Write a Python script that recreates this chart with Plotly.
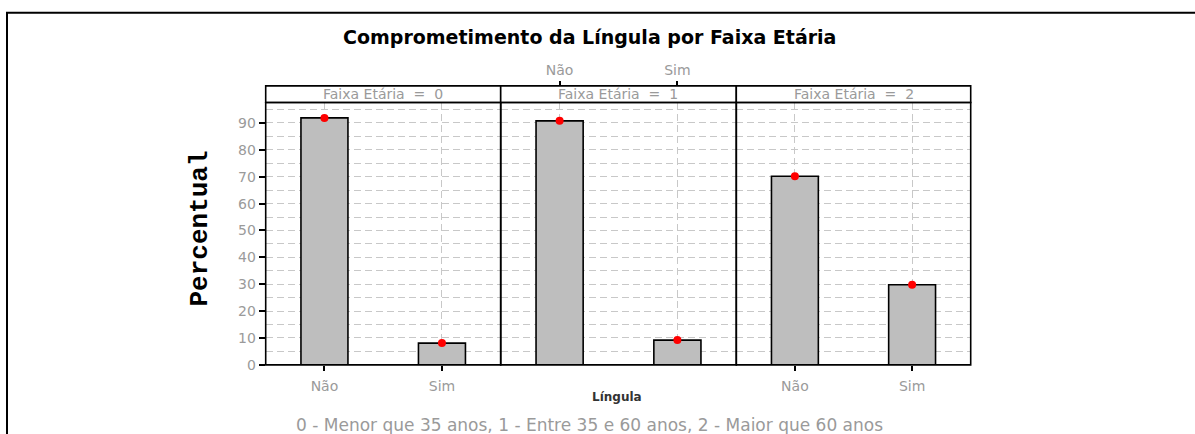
import plotly.graph_objects as go

# dados
categorias = ["Não", "Sim"]
faixas = ["0", "1", "2"]
pct_nao = [91.9, 90.8, 70.2]
pct_sim = [8.1, 9.2, 29.8]
yticks = [0, 10, 20, 30, 40, 50, 60, 70, 80, 90]
titulo = "Comprometimento da Língula por Faixa Etária"
rodape = "0 - Menor que 35 anos, 1 - Entre 35 e 60 anos, 2 - Maior que 60 anos"

W, H = 1195, 434
px = lambda v: v / W
py = lambda v: 1 - v / H

# paineis (pixels)
xs = [(265.7, 500.7), (500.7, 736.3), (736.3, 970.7)]
plot_top, plot_bot = 102.3, 364.0
strip_top = 85.7
ymax = (plot_bot - plot_top) / 2.681

GRAY = "#9a9a9a"
GRID = "#c8c8c8"
DASH = "7px,4px"

fig = go.Figure()

for i, f in enumerate(faixas):
    sx = "" if i == 0 else str(i + 1)
    vals = [pct_nao[i], pct_sim[i]]
    fig.add_trace(go.Bar(
        x=categorias, y=vals, width=0.4,
        marker=dict(color="#bebebe", line=dict(color="black", width=1.6)),
        xaxis="x" + sx, yaxis="y" + sx, showlegend=False,
    ))
    fig.add_trace(go.Scatter(
        x=categorias, y=vals, mode="markers",
        marker=dict(color="red", size=8),
        xaxis="x" + sx, yaxis="y" + sx, showlegend=False,
    ))

# eixo superior do painel do meio (estilo lattice)
fig.add_trace(go.Scatter(
    x=categorias, y=[None, None], mode="markers",
    xaxis="x4", yaxis="y2", showlegend=False, hoverinfo="skip",
))

xcommon = dict(
    type="category", categoryarray=categorias, range=[-0.5, 1.5],
    showline=False,
    showgrid=True, gridcolor=GRID, griddash=DASH, gridwidth=1,
    zeroline=False, fixedrange=True,
    tickfont=dict(family="DejaVu Sans", size=14, color=GRAY),
)
ycommon = dict(
    range=[0, ymax], tickvals=yticks,
    showline=False,
    showgrid=True, gridcolor=GRID, griddash=DASH, gridwidth=1,
    minor=dict(dtick=5, tick0=0, showgrid=True, gridcolor=GRID,
               griddash=DASH, gridwidth=1, ticks=""),
    zeroline=False, fixedrange=True,
    tickfont=dict(family="DejaVu Sans", size=14, color=GRAY),
)

lay = {}
for i in range(3):
    sx = "" if i == 0 else str(i + 1)
    xa = dict(xcommon, domain=[px(xs[i][0]), px(xs[i][1])], anchor="y" + sx)
    if i == 1:
        xa.update(ticks="", showticklabels=False)
    else:
        xa.update(ticks="outside", ticklen=5, tickcolor="black", tickwidth=1.5,
                  ticklabelstandoff=3)
    ya = dict(ycommon, domain=[py(plot_bot), py(plot_top)], anchor="x" + sx)
    if i == 0:
        ya.update(ticks="outside", ticklen=6, tickcolor="black", tickwidth=1.5)
    else:
        ya.update(ticks="", showticklabels=False)
        ya["matches"] = "y"
    lay["xaxis" + sx] = xa
    lay["yaxis" + sx] = ya

lay["xaxis4"] = dict(
    type="category", categoryarray=categorias, range=[-0.5, 1.5],
    overlaying="x2", anchor="free", position=py(strip_top), side="top",
    showline=False, showgrid=False, zeroline=False, fixedrange=True,
    ticks="outside", ticklen=5, tickcolor="black", tickwidth=1.5,
    tickfont=dict(family="DejaVu Sans", size=14, color=GRAY),
)

fig.update_layout(**lay)

shapes = []
annotations = []
for i, f in enumerate(faixas):
    # faixa (strip)
    shapes.append(dict(
        type="rect", xref="paper", yref="paper",
        x0=px(xs[i][0]), x1=px(xs[i][1]), y0=py(plot_top), y1=py(strip_top),
        line=dict(color="black", width=1.6), fillcolor="white",
    ))
    # borda do painel
    shapes.append(dict(
        type="rect", xref="paper", yref="paper", layer="above",
        x0=px(xs[i][0]), x1=px(xs[i][1]), y0=py(plot_bot), y1=py(plot_top),
        line=dict(color="black", width=1.6),
    ))
    annotations.append(dict(
        text="Faixa Etária  =  " + f, xref="paper", yref="paper",
        x=px((xs[i][0] + xs[i][1]) / 2), y=py((plot_top + strip_top) / 2),
        showarrow=False, xanchor="center", yanchor="middle",
        font=dict(family="DejaVu Sans", size=14, color=GRAY),
    ))

# moldura externa
shapes.append(dict(
    type="rect", xref="paper", yref="paper",
    x0=px(7), x1=1.02, y0=-0.05, y1=py(12.7),
    line=dict(color="black", width=2),
))

annotations += [
    dict(text="<b>" + titulo + "</b>", xref="paper", yref="paper",
         x=px(589), y=py(37), showarrow=False, xanchor="center", yanchor="middle",
         font=dict(family="DejaVu Sans", size=19, color="black")),
    dict(text="<b>Percentual</b>", xref="paper", yref="paper",
         x=px(200), y=py(228), showarrow=False, textangle=-90,
         xanchor="center", yanchor="middle",
         font=dict(family="Liberation Mono", size=26, color="black")),
    dict(text="<b>Língula</b>", xref="paper", yref="paper",
         x=px(617), y=py(396), showarrow=False, xanchor="center", yanchor="middle",
         font=dict(family="DejaVu Sans", size=12, color="#333333")),
    dict(text=rodape, xref="paper", yref="paper",
         x=px(589), y=py(424), showarrow=False, xanchor="center", yanchor="middle",
         font=dict(family="DejaVu Sans", size=17, color=GRAY)),
]

fig.update_layout(
    width=W, height=443, autosize=False,
    margin=dict(t=0, b=0, l=0, r=0),
    paper_bgcolor="white", plot_bgcolor="white",
    shapes=shapes, annotations=annotations,
    barmode="overlay", showlegend=False,
)

fig.write_html("out.html", config={"displayModeBar": False},
               post_script="document.body.style.margin='0';")
